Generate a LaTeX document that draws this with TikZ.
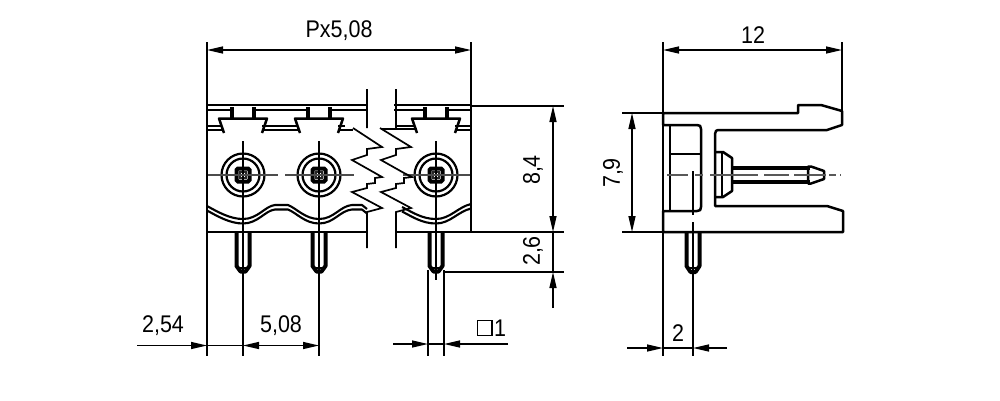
\documentclass[tikz,border=0pt]{standalone}
\usepackage{graphicx}
\usepackage{fontspec}
\setmainfont{Liberation Sans}
\usetikzlibrary{arrows.meta}
\newcommand{\dimtext}[1]{\scalebox{1}[1.12]{#1}}
\tikzset{
  thin line/.style={line width=1.35pt,black},
  body/.style={line width=2.5pt,black,line join=round},
  heavy/.style={line width=3.5pt,black,line join=round},
  medium/.style={line width=2.2pt,black,line join=round},
  dimline/.style={line width=1.4pt,black},
  tip/.style={-{Triangle[length=16pt,width=7pt]}},
  both tips/.style={{Triangle[length=16pt,width=7pt]}-{Triangle[length=16pt,width=7pt]}},
  label/.style={inner sep=0pt,font=\fontsize{21.5pt}{21.5pt}\selectfont,text=black},
}
\begin{document}
\begin{tikzpicture}[x=1pt,y=-1pt]
\useasboundingbox[fill=white] (0,0) rectangle (1000,400);

% ---------- left view : outline
\draw[body] (207,232) -- (207,105) -- (368,105);
\draw[body] (394,105) -- (471,105) -- (471,232);
\draw[body] (207,232) -- (367,232);
\draw[body] (396,232) -- (471,232);

% upper rail second line
\draw[body] (207,110) -- (231,110) (255,110) -- (307,110) (331,110) -- (368,110);
\draw[body] (394,110) -- (424,110) (448,110) -- (471,110);

% lower rail double lines
\draw[body] (207,126) -- (222,126) (262,126) -- (298,126) (338,126) -- (345,126);
\draw[body] (207,130) -- (223,130) (262,130) -- (300,130) (338,130) -- (353,130);
\draw[body] (396,126) -- (415,126) (455,126) -- (471,126);
\draw[body] (382,129) -- (417,129) (455,130) -- (471,130);

% repeated terminals
\foreach \c in {243,319,436}{
  \draw[heavy] (\c-11,107) -- (\c-11,118);
  \draw[heavy] (\c+11,107) -- (\c+11,118);
  \draw[body] (\c-19,133) -- (\c-24,118.5) -- (\c+24,118.5) -- (\c+19,133);
  \draw[medium] (\c,175) circle (21.5);
  \draw[medium] (\c,175) circle (16.5);
  \draw[line width=4pt,rounded corners=1.5pt] (\c-6.5,168.5) rectangle (\c+6.5,181.5);
  \draw[line width=1.5pt,black!85] (\c-3,172) rectangle (\c+3,178);
  % pin
  \draw[line width=4pt,line join=round] (\c-6.5,233) -- (\c-6.5,266) -- (\c-2.5,271.5) -- (\c+2.5,271.5) -- (\c+6.5,266) -- (\c+6.5,233);
  \draw[line width=1.2pt] (\c-5,268) -- (\c+5,268);
}
% centre lines verticals
\draw[thin line] (243,141) -- (243,356);
\draw[thin line] (319,141) -- (319,356);
\draw[thin line] (436,141) -- (436,280);
% centre lines horizontal
\draw[line width=1.4pt,black!70] (208,175) -- (278,175) (285,175) -- (354,175) (403,175) -- (470,175);

% waves
\foreach \d in {0,4.5}{
  \draw[line width=2.1pt,black,line join=round]
    (207,206+\d) .. controls (218,212+\d) and (230,219+\d) .. (243,219+\d)
    .. controls (258,219+\d) and (265,206+\d) .. (275,205+\d) -- (288,205+\d)
    .. controls (296,208+\d) and (305,219+\d) .. (319,219+\d)
    .. controls (334,219+\d) and (340,206+\d) .. (352,205+\d) -- (362,205+\d) -- (367,209+\d);
  \draw[line width=2.1pt,black,line join=round]
    (402,207+\d) .. controls (412,212+\d) and (422,219+\d) .. (436,219+\d)
    .. controls (450,219+\d) and (458,207+\d) .. (471,204+\d);
}

% break lines
\draw[line width=1.7pt,line join=miter]
  (367,89) -- (367,128)
  (353,128) -- (382,147) -- (367,149) -- (367,155) -- (352,160) -- (375,173) -- (382,177)
  -- (375,178) -- (375,183) -- (367,184) -- (367,188) -- (352,192) -- (382,208) -- (367,212) -- (367,248);
\draw[line width=1.7pt,line join=miter]
  (396,89) -- (396,128)
  (380,128) -- (411,147) -- (396,149) -- (396,155) -- (381,160) -- (404,173) -- (412,177)
  -- (404,178) -- (404,183) -- (396,184) -- (396,188) -- (381,192) -- (411,208) -- (396,212) -- (396,248);

% ---------- side view
\draw[body] (663,113) -- (798,113) -- (798,105) -- (821,105) -- (842,111) -- (842,125) -- (827,130) -- (720,130)
  .. controls (716,130) and (715,131) .. (715,134) -- (715,206) -- (827,206) -- (843,211) -- (843,232) -- (663,232) -- (663,211) -- (697,211)
  .. controls (700,211) and (701,210) .. (701,207) -- (701,129) .. controls (701,126) and (700,125) .. (697,125) -- (663,125) -- (663,113);
\draw[body] (670,125) -- (670,211);
\draw[body] (670,154) -- (701,154);
% collar
\draw[body] (716,152) -- (723,152) -- (732,158) -- (732,191) -- (723,197) -- (716,197);
\draw[body] (722,152) -- (722,197);
% horizontal pin
\draw[line width=4pt] (732,168) -- (810,168);
\draw[line width=4pt] (732,181.5) -- (810,181.5);
\draw[body] (808,166.5) -- (811,166.5) -- (824,171) -- (824,179) -- (811,183.5) -- (808,183.5) -- cycle;
% vertical pin
\draw[line width=4pt,line join=round] (686.5,233) -- (686.5,266) -- (690.5,272) -- (695.5,272) -- (699.5,266) -- (699.5,233);
\draw[line width=1.2pt] (688,268) -- (698,268);
% centre lines
\draw[line width=1.4pt,black!65] (667,175) -- (688,175) (695,175) -- (703,175) (710,175) -- (758,175) (764,175) -- (789,175) (794,175) -- (826,175) (829,175) -- (836,175) (840,175) -- (841,175);
\draw[thin line] (693,171) -- (693,215) (693,222) -- (693,356);

% ---------- extension lines
\draw[thin line] (207,42) -- (207,356);
\draw[thin line] (471,42) -- (471,106);
\draw[thin line] (471,106) -- (564,106);
\draw[thin line] (471,232) -- (564,232);
\draw[thin line] (444,272) -- (564,272);
\draw[thin line] (428,270) -- (428,356);
\draw[thin line] (444,270) -- (444,356);
\draw[thin line] (663,42) -- (663,356);
\draw[thin line] (842,42) -- (842,113);
\draw[thin line] (622,113) -- (663,113);
\draw[thin line] (622,232) -- (663,232);

% ---------- dimension lines
\draw[dimline,both tips] (207,50) -- (471,50);
\draw[dimline,both tips] (663,50) -- (842,50);
\draw[dimline,both tips] (553,106) -- (553,232);
\draw[dimline,tip] (553,308) -- (553,272);
\draw[dimline] (553,232) -- (553,272);
\draw[dimline,both tips] (632,113) -- (632,232);
\draw[dimline,tip] (137,345.5) -- (207,345.5);
\draw[dimline] (207,345.5) -- (243,345.5);
\draw[dimline,both tips] (243,345.5) -- (319,345.5);
\draw[dimline,tip] (393,344) -- (428,344);
\draw[dimline,tip] (508,344) -- (444,344);
\draw[dimline] (428,344) -- (444,344);
\draw[dimline,tip] (627,348) -- (663,348);
\draw[dimline,tip] (727,348) -- (693,348);
\draw[dimline] (663,348) -- (693,348);

% ---------- labels
\node[label] (px) at (339,31) {\dimtext{Px5,08}};
\node[label] (w) at (753,35) {\dimtext{12}};
\node[label,rotate=90] (h1) at (533,170) {\dimtext{8,4}};
\node[label,rotate=90] (h2) at (533,251) {\dimtext{2,6}};
\node[label,rotate=90] (h3) at (613,173) {\dimtext{7,9}};
\node[label] (a) at (163,326) {\dimtext{2,54}};
\node[label] (b) at (281,326) {\dimtext{5,08}};
\node[label] (c) at (678,333) {\dimtext{2}};
\node[label] (d) at (500,328) {\dimtext{1}};
\draw[line width=1.6pt] (477.5,320.5) rectangle (492,335.5);
\end{tikzpicture}
\end{document}
